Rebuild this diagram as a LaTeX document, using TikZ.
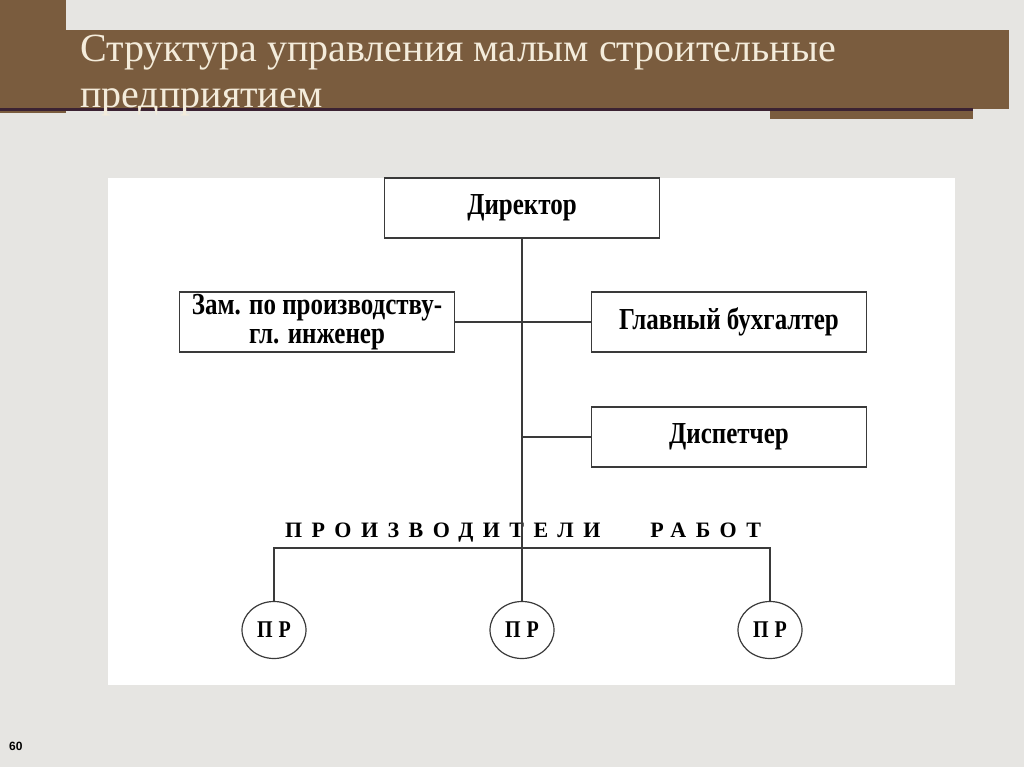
\documentclass[tikz,border=0pt]{standalone}
\usepackage{graphicx}
\usepackage{fontspec}
\setmainfont{Liberation Serif}
\newfontfamily\numfont{Liberation Sans}
\newfontfamily\spacedfont[LetterSpace=43]{Liberation Serif}
\newfontfamily\prfont[LetterSpace=30]{Liberation Serif}
\usetikzlibrary{shapes.geometric}
\definecolor{slidebg}{HTML}{E6E5E2}
\definecolor{titlebrown}{HTML}{7A5C3E}
\definecolor{titleline}{HTML}{3B2232}
\definecolor{titletext}{HTML}{F4ECDB}
\definecolor{boxline}{HTML}{3A3A3A}
\newcommand{\tallline}[1]{\scalebox{1}[1.22]{#1}}
\tikzset{
  unitbox/.style={draw=boxline,line width=1.2pt,fill=white,minimum width=275pt,
    minimum height=60pt,inner sep=0pt,align=center,font=\fontsize{25}{24}\selectfont\bfseries},
  prnode/.style={draw=boxline,line width=1.2pt,fill=white,ellipse,minimum width=64pt,
    minimum height=57pt,inner sep=0pt,font=\fontsize{20}{22}\selectfont\bfseries\prfont},
  titletxt/.style={anchor=base west,inner sep=0pt,text=titletext,font=\fontsize{40}{46}\selectfont},
  link/.style={draw=boxline,line width=1.2pt},
}
\begin{document}
\begin{tikzpicture}[x=1pt,y=-1pt]
  % slide background and title band
  \fill[slidebg] (0,0) rectangle (1024,767);
  \useasboundingbox (0,0) rectangle (1024,767);
  \fill[titlebrown] (0,0) rectangle (66,113);
  \fill[titlebrown] (66,30) rectangle (1009,109);
  \fill[titlebrown] (770,109) rectangle (973,119);
  \fill[titleline] (0,108) rectangle (973,111);
  \node[titletxt] (title1) at (80,62) {Структура управления малым строительные};
  \node[titletxt] (title2) at (80,108) {предприятием};
  \fill[white] (108,178) rectangle (955,685);

  % chart
  \node[unitbox] (dir)  at (522,208) {\tallline{Директор}};
  \node[unitbox] (zam)  at (317,322) {\tallline{Зам. по производству-}\\[5pt]\tallline{гл. инженер}};
  \node[unitbox] (glb)  at (729,322) {\tallline{Главный бухгалтер}};
  \node[unitbox] (disp) at (729,437) {\tallline{Диспетчер}};
  \node[anchor=base,inner sep=0pt,font=\fontsize{22}{24}\selectfont\bfseries\spacedfont]
    (prlab) at (523,537) {ПРОИЗВОДИТЕЛИ\hspace{50pt}РАБОТ};
  \node[prnode] (pr1) at (274,630) {\scalebox{1}[1.2]{ПР}};
  \node[prnode] (pr2) at (522,630) {\scalebox{1}[1.2]{ПР}};
  \node[prnode] (pr3) at (770,630) {\scalebox{1}[1.2]{ПР}};
  \coordinate (bar) at (522,548);

  \draw[link] (dir.south) -- (pr2.north);
  \draw[link] (zam.east) -- (glb.west);
  \draw[link] (disp.west) -- (disp.west -| dir.south);
  \draw[link] (pr1.north) |- (bar) -| (pr3.north);

  \node[anchor=base west,inner sep=0pt,font=\fontsize{12}{14}\selectfont\numfont\bfseries]
    (pagenum) at (9,750) {60};
\end{tikzpicture}
\end{document}
